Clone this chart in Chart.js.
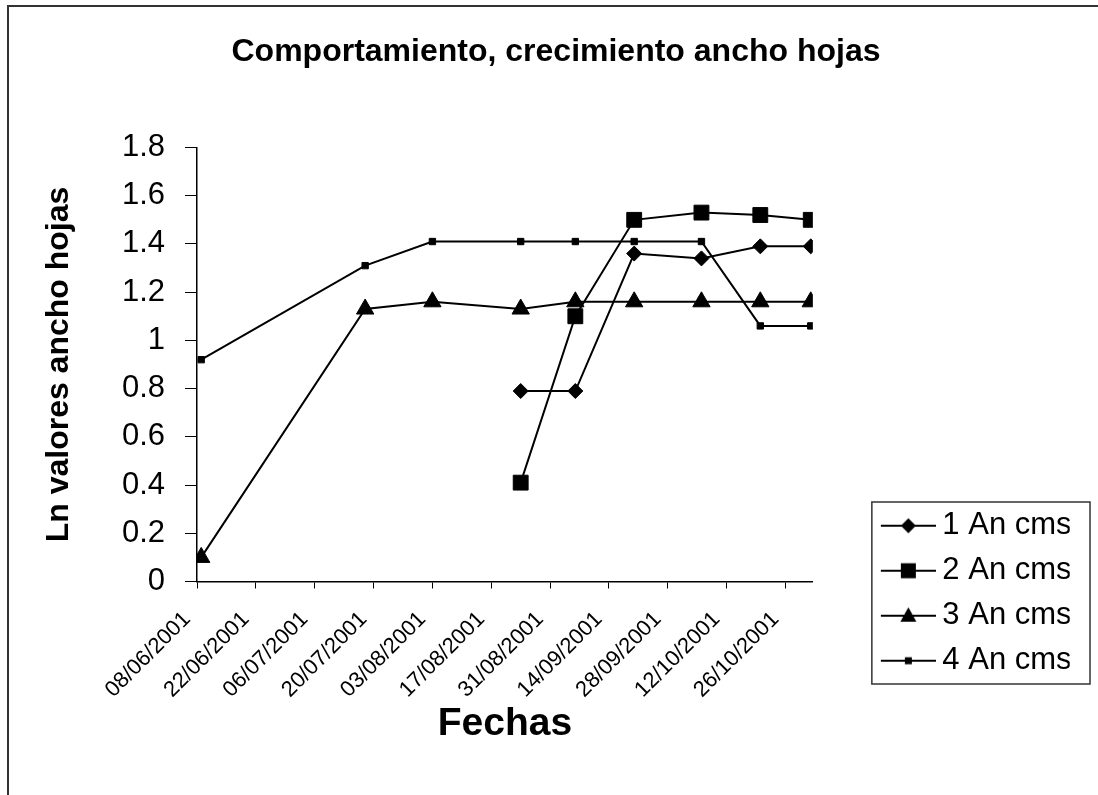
<!DOCTYPE html>
<html>
<head>
<meta charset="utf-8">
<script src="https://cdn.jsdelivr.net/npm/chart.js@4/dist/chart.umd.min.js"></script>
<style>
  html, body { margin: 0; padding: 0; background: #fff; overflow: hidden; }
  #wrap { position: relative; width: 1098px; height: 795px; }
  #frame { position: absolute; left: 7px; top: 5px; width: 1300px; height: 1000px; border: 2px solid #333; }
  #chart { position: absolute; left: 0; top: 0; }
</style>
</head>
<body>
<div id="wrap">
  <div id="frame"></div>
  <canvas id="chart" width="1098" height="795"></canvas>
</div>
<script>
// dates of the measurements and the tick labels of the date axis
const fechas = ['09/06/2001', '18/07/2001', '03/08/2001', '24/08/2001', '06/09/2001',
                '20/09/2001', '06/10/2001', '20/10/2001', '01/11/2001'];
const tickLabels = ['08/06/2001', '22/06/2001', '06/07/2001', '20/07/2001', '03/08/2001', '17/08/2001',
                    '31/08/2001', '14/09/2001', '28/09/2001', '12/10/2001', '26/10/2001'];

// Ln of leaf width, one list per plant
const an1 = [null, null, null, 0.79, 0.79, 1.36, 1.34, 1.39, 1.39];
const an2 = [null, null, null, 0.41, 1.10, 1.50, 1.53, 1.52, 1.50];
const an3 = [0.10, 1.13, 1.16, 1.13, 1.16, 1.16, 1.16, 1.16, 1.16];
const an4 = [0.92, 1.31, 1.41, 1.41, 1.41, 1.41, 1.41, 1.06, 1.06];

const FONT = "'Liberation Sans', Arial, sans-serif";
Chart.defaults.font.family = FONT;
Chart.defaults.color = '#000';

const startDate = Date.UTC(2001, 5, 8);
function dayOf(s) {
    const [d, m, y] = s.split('/').map(Number);
    return (Date.UTC(y, m - 1, d) - startDate) / 86400000;
}
function fmtDay(day) {
    const dt = new Date(startDate + day * 86400000);
    const dd = String(dt.getUTCDate()).padStart(2, '0');
    const mm = String(dt.getUTCMonth() + 1).padStart(2, '0');
    return dd + '/' + mm + '/' + dt.getUTCFullYear();
}
function toPoints(vals) {
    return fechas.map((f, i) => vals[i] == null ? null : { x: dayOf(f), y: vals[i] }).filter(p => p);
}

// legend sample: line with the marker, drawn on the right part of a small canvas
function legendIcon(kind) {
    const c = document.createElement('canvas');
    c.width = 118; c.height = 24;
    const g = c.getContext('2d');
    g.strokeStyle = '#000'; g.fillStyle = '#000'; g.lineWidth = 2;
    g.beginPath(); g.moveTo(63, 12); g.lineTo(118, 12); g.stroke();
    const cx = 90.5, cy = 12;
    g.beginPath();
    if (kind === 'diamond') {
        g.moveTo(cx - 7.5, cy); g.lineTo(cx, cy - 7.5); g.lineTo(cx + 7.5, cy); g.lineTo(cx, cy + 7.5);
    } else if (kind === 'square') {
        g.rect(cx - 7.5, cy - 7.5, 15, 15);
    } else if (kind === 'triangle') {
        g.moveTo(cx, cy - 8.5); g.lineTo(cx + 8, cy + 6); g.lineTo(cx - 8, cy + 6);
    } else {
        g.rect(cx - 3.5, cy - 3.5, 7, 7);
    }
    g.closePath(); g.fill();
    return c;
}

function series(label, vals, style, radius, icon) {
    return {
        label: label,
        data: toPoints(vals),
        borderColor: '#000',
        backgroundColor: '#000',
        borderWidth: 2,
        pointStyle: style,
        pointRadius: radius,
        pointHoverRadius: radius,
        pointBackgroundColor: '#000',
        pointBorderColor: '#000',
        pointBorderWidth: 1,
        tension: 0,
        legendIcon: legendIcon(icon)
    };
}

const legendFrame = {
    id: 'legendFrame',
    afterDraw(chart) {
        const hb = chart.legend.legendHitBoxes;
        if (!hb || !hb.length) return;
        const first = hb[0], last = hb[hb.length - 1];
        const ctx = chart.ctx;
        ctx.save();
        ctx.strokeStyle = '#333';
        ctx.lineWidth = 1.5;
        const x = first.left + 45, y = first.top - 8.2;
        ctx.strokeRect(x, y, 1090 - x, last.top + 38.8 - y);
        ctx.restore();
    }
};

new Chart(document.getElementById('chart'), {
    type: 'line',
    data: {
        datasets: [
            series('1 An cms', an1, 'rectRot', 7.5, 'diamond'),
            series('2 An cms', an2, 'rect', 10.5, 'square'),
            series('3 An cms', an3, 'triangle', 10, 'triangle'),
            series('4 An cms', an4, 'rect', 4.5, 'small')
        ]
    },
    plugins: [legendFrame],
    options: {
        responsive: false,
        animation: false,
        devicePixelRatio: 1,
        layout: { padding: { left: 42.3, right: 28.3, top: 0, bottom: 47.2 } },
        plugins: {
            title: {
                display: true,
                text: 'Comportamiento, crecimiento ancho hojas',
                font: { size: 32, weight: 'bold' },
                padding: { top: 32.8, bottom: 76.3 }
            },
            legend: {
                position: 'right',
                align: 'start',
                // blank legend title, only used to push the entries down
                title: { display: true, text: ' ', font: { size: 10 }, padding: { top: 484.2, bottom: 0 } },
                labels: {
                    font: { size: 31 },
                    padding: 14,
                    usePointStyle: true,
                    pointStyleWidth: 100,
                    generateLabels(chart) {
                        return chart.data.datasets.map((ds, i) => ({
                            text: ds.label,
                            pointStyle: ds.legendIcon,
                            fillStyle: '#000',
                            strokeStyle: '#000',
                            lineWidth: 0,
                            fontColor: '#000',
                            datasetIndex: i,
                            hidden: false
                        }));
                    }
                }
            },
            tooltip: { enabled: false }
        },
        scales: {
            x: {
                type: 'linear',
                min: 0,
                max: 146.5,
                afterBuildTicks(scale) {
                    scale.ticks = tickLabels.map(t => ({ value: dayOf(t) }));
                },
                afterFit(scale) { scale.height = 166.3; },
                ticks: {
                    autoSkip: false,
                    minRotation: 45,
                    maxRotation: 45,
                    labelOffset: -10,
                    padding: 18,
                    font: { size: 22 },
                    callback: v => fmtDay(v)
                },
                grid: { drawOnChartArea: false, drawTicks: true, tickLength: 7, color: '#000', tickColor: '#000' },
                border: { display: true, color: '#000', width: 1.5 },
                title: {
                    display: true,
                    text: 'Fechas',
                    font: { size: 39, weight: 'bold' },
                    padding: { top: 0, bottom: 0 }
                }
            },
            y: {
                min: 0,
                max: 1.8,
                afterFit(scale) { scale.width = 154.7; },
                ticks: {
                    stepSize: 0.2,
                    padding: 20,
                    font: { size: 31 },
                    callback: v => String(+v.toFixed(1))
                },
                grid: { drawOnChartArea: false, drawTicks: true, tickLength: 12, color: '#000', tickColor: '#000' },
                border: { display: true, color: '#000', width: 1.5 },
                title: {
                    display: true,
                    text: 'Ln valores ancho hojas',
                    font: { size: 32, weight: 'bold' },
                    padding: { top: -2, bottom: 0 }
                }
            }
        }
    }
});
</script>
</body>
</html>
